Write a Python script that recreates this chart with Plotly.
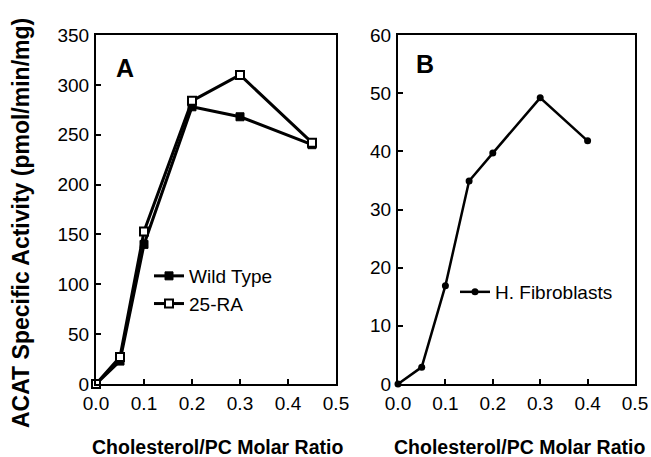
import plotly.graph_objects as go

# ---- data ----
ratio_a = [0.0, 0.05, 0.1, 0.2, 0.3, 0.45]
wild_type = [0, 23, 140, 278, 268, 240]
ra25 = [0, 27, 153, 284, 310, 242]

ratio_b = [0.0, 0.05, 0.1, 0.15, 0.2, 0.3, 0.4]
fibroblasts = [0, 2.9, 16.9, 34.9, 39.7, 49.2, 41.8]

x_ticks = [0.0, 0.1, 0.2, 0.3, 0.4, 0.5]
x_ticktext = ["0.0", "0.1", "0.2", "0.3", "0.4", "0.5"]

W, H = 651, 457
FONT = "Liberation Sans, Arial, sans-serif"

fig = go.Figure()

fig.add_trace(go.Scatter(
    x=ratio_a, y=wild_type, name="Wild Type", mode="lines+markers",
    line=dict(color="black", width=3),
    marker=dict(symbol="square", size=8, color="black", line=dict(color="black", width=1)),
    xaxis="x", yaxis="y", legend="legend", cliponaxis=False))
fig.add_trace(go.Scatter(
    x=ratio_a, y=ra25, name="25-RA", mode="lines+markers",
    line=dict(color="black", width=3),
    marker=dict(symbol="square", size=8, color="white", line=dict(color="black", width=2)),
    xaxis="x", yaxis="y", legend="legend", cliponaxis=False))
fig.add_trace(go.Scatter(
    x=ratio_b, y=fibroblasts, name="H. Fibroblasts", mode="lines+markers",
    line=dict(color="black", width=2.5),
    marker=dict(symbol="circle", size=7, color="black"),
    xaxis="x2", yaxis="y2", legend="legend2", cliponaxis=False))

def px_x(p):
    return p / W

def px_y(p):
    return 1 - p / H

axis_common = dict(
    showline=True, mirror=True, linecolor="black", linewidth=2,
    ticks="inside", ticklen=5, tickwidth=2, tickcolor="black",
    showgrid=False, zeroline=False, automargin=False,
    tickfont=dict(family=FONT, size=19, color="black"),
)

ydom = [px_y(384), px_y(35)]

fig.update_layout(
    template="none",
    width=W, height=H,
    margin=dict(l=0, r=0, t=0, b=0, pad=0),
    paper_bgcolor="white", plot_bgcolor="white",
    font=dict(family=FONT, color="black"),
    xaxis=dict(domain=[px_x(96), px_x(336)], range=[0, 0.5],
               tickvals=x_ticks, ticktext=x_ticktext, anchor="y",
               ticklabelstandoff=1, **axis_common),
    yaxis=dict(domain=ydom, range=[0, 350], dtick=50, anchor="x",
               ticklabelstandoff=1, **axis_common),
    xaxis2=dict(domain=[px_x(398), px_x(635)], range=[0, 0.5],
                tickvals=x_ticks, ticktext=x_ticktext, anchor="y2",
                ticklabelstandoff=1, **axis_common),
    yaxis2=dict(domain=ydom, range=[0, 60], dtick=10, anchor="x2",
                ticklabelstandoff=1, **axis_common),
    legend=dict(x=px_x(149), y=px_y(257), xanchor="left", yanchor="top",
                bgcolor="rgba(0,0,0,0)", font=dict(family=FONT, size=19, color="black"),
                itemwidth=30, tracegroupgap=0),
    legend2=dict(x=px_x(455), y=px_y(273), xanchor="left", yanchor="top",
                 bgcolor="rgba(0,0,0,0)", font=dict(family=FONT, size=19, color="black"),
                 itemwidth=30),
    showlegend=True,
)

annotations = [
    dict(text="<b>ACAT Specific Activity (pmol/min/mg)</b>", textangle=-90,
         x=px_x(21), y=px_y(223), xref="paper", yref="paper",
         xanchor="center", yanchor="middle",
         showarrow=False, font=dict(family=FONT, size=23, color="black")),
    dict(text="<b>Cholesterol/PC Molar Ratio</b>", x=px_x(217), y=px_y(447),
         xref="paper", yref="paper", showarrow=False,
         xanchor="center", yanchor="middle",
         font=dict(family=FONT, size=19.5, color="black")),
    dict(text="<b>Cholesterol/PC Molar Ratio</b>", x=px_x(519), y=px_y(447),
         xref="paper", yref="paper", showarrow=False,
         xanchor="center", yanchor="middle",
         font=dict(family=FONT, size=19.5, color="black")),
    dict(text="<b>A</b>", x=px_x(125), y=px_y(68), xref="paper", yref="paper",
         xanchor="center", yanchor="middle",
         showarrow=False, font=dict(family=FONT, size=25, color="black")),
    dict(text="<b>B</b>", x=px_x(425), y=px_y(64), xref="paper", yref="paper",
         xanchor="center", yanchor="middle",
         showarrow=False, font=dict(family=FONT, size=25, color="black")),
]
fig.update_layout(annotations=annotations)

fig.write_html("out.html")
